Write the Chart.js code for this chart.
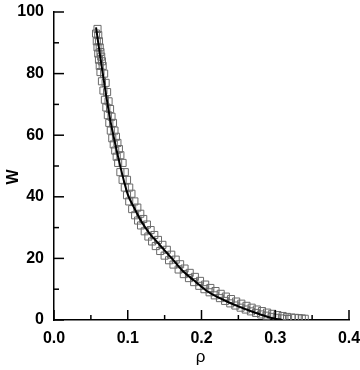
<!DOCTYPE html>
<html>
<head>
<meta charset="utf-8">
<script src="https://cdn.jsdelivr.net/npm/chart.js@4/dist/chart.umd.min.js"></script>
<style>
html,body{margin:0;padding:0;background:#fff;}
#wrap{width:360px;height:370px;position:relative;}
</style>
</head>
<body>
<div id="wrap"><canvas id="c" width="360" height="370"></canvas></div>
<script>
// ---- data ----
const fitRho = [0.057,0.060,0.063,0.066,0.070,0.073,0.077,0.080,0.085,0.090,0.095,0.100,0.110,0.120,0.130,0.140,0.150,0.160,0.175,0.190,0.210,0.230,0.250,0.270,0.290,0.300,0.310];
const fitW   = [95,90,85,80.2,74,69.5,64,60.5,55,49.8,45,40.8,35.8,31.4,28,25.3,22.6,19.9,15.8,12.8,9.0,6.5,4.4,2.6,1.0,0.4,0];

const upperRho = [0.059,0.060,0.061,0.062,0.063,0.064,0.065,0.066,0.068,0.070,0.072,0.074,0.076,0.078,0.080,0.082,0.084,0.086,0.088,0.090,0.093,0.096,0.099,0.102,0.105,0.109,0.113,0.117,0.121,0.126,0.131,0.136,0.141,0.147,0.153,0.159,0.165,0.171,0.177,0.184,0.191,0.198,0.205,0.212,0.219,0.226,0.233,0.240,0.247,0.254,0.261,0.268,0.275,0.282,0.289,0.296,0.303,0.310,0.316,0.322,0.327,0.332,0.336,0.340];
const upperW   = [94.5,92.5,90.5,88.5,87,85.5,84,82.5,80,77,74,71,68.5,66,64,61.5,59.5,57.5,55.5,53.5,51,48,45.5,43,41,38.5,36.5,34.5,32.8,31,29.2,27.6,26,24.4,22.8,21.2,19.6,18.1,16.7,15.3,14.0,12.7,11.5,10.4,9.4,8.5,7.6,6.8,6.0,5.3,4.6,4.0,3.4,2.9,2.4,2.0,1.6,1.3,1.0,0.8,0.7,0.6,0.5,0.4];

const lowerRho = [0.057,0.058,0.059,0.060,0.061,0.062,0.063,0.065,0.067,0.069,0.071,0.073,0.075,0.077,0.079,0.081,0.083,0.085,0.087,0.090,0.093,0.096,0.099,0.102,0.106,0.110,0.114,0.118,0.123,0.128,0.133,0.138,0.144,0.150,0.156,0.162,0.169,0.176,0.183,0.190,0.197,0.204,0.211,0.218,0.225,0.232,0.239,0.246,0.253,0.260,0.267,0.274,0.281,0.288,0.295,0.302,0.309,0.316];
const lowerW   = [93,90.5,88.5,86.5,84.5,82.5,80.5,77.5,74.5,71.5,69,66.5,64,61.5,59,57,55,53,51,48,45.5,43,40.5,38.5,36,34,32.3,30.7,28.8,27.1,25.5,24,22.4,20.9,19.4,18,16.4,14.9,13.6,12.3,11.1,10.0,9.0,8.0,7.1,6.2,5.4,4.7,4.0,3.4,2.8,2.3,1.8,1.4,1.0,0.7,0.5,0.3];

const xMajorTicks = [0, 0.1, 0.2, 0.3, 0.4];
const xMinorTicks = [0.05, 0.15, 0.25, 0.35];
const yMajorTicks = [0, 20, 40, 60, 80, 100];
const yMinorTicks = [10, 30, 50, 70, 90];
const xTitle = 'ρ';
const yTitle = 'W';

const pts = (xs, ys) => xs.map((x, i) => ({x: x, y: ys[i]}));
const FONT = "'Liberation Sans', Arial, Helvetica, sans-serif";

// target plot frame (pixels)
const AREA = { left: 54, top: 12, right: 349, bottom: 320 };
const dims = { yWidth: 54, xHeight: 50, padTop: 12, padRight: 11 };

const tickPlugin = {
  id: 'inTicks',
  afterDraw(chart) {
    const ctx = chart.ctx, xs = chart.scales.x, ys = chart.scales.y, a = chart.chartArea;
    ctx.save();
    ctx.strokeStyle = '#000';
    ctx.lineWidth = 1.5;
    const xt = (v, len) => { const p = xs.getPixelForValue(v); ctx.beginPath(); ctx.moveTo(p, a.bottom); ctx.lineTo(p, a.bottom - len); ctx.stroke(); };
    const yt = (v, len) => { const p = ys.getPixelForValue(v); ctx.beginPath(); ctx.moveTo(a.left, p); ctx.lineTo(a.left + len, p); ctx.stroke(); };
    xMajorTicks.forEach(v => xt(v, 10));
    xMinorTicks.forEach(v => xt(v, 5));
    yMajorTicks.forEach(v => yt(v, 10));
    yMinorTicks.forEach(v => yt(v, 5));
    // axis titles
    ctx.fillStyle = '#000';
    ctx.textAlign = 'center';
    ctx.textBaseline = 'middle';
    ctx.font = '17px ' + FONT;
    ctx.fillText(xTitle, (a.left + a.right) / 2 - 1, 357);
    ctx.translate(14, 177);
    ctx.rotate(-Math.PI / 2);
    ctx.font = 'bold 16px ' + FONT;
    ctx.fillText(yTitle, 0, 0);
    ctx.restore();
  }
};

const chart = new Chart(document.getElementById('c'), {
  type: 'scatter',
  data: {
    datasets: [
      { label: 'fit', type: 'line', data: pts(fitRho, fitW), borderColor: '#000', borderWidth: 2,
        pointRadius: 0, fill: false, cubicInterpolationMode: 'monotone', order: 0 },
      { label: 'upper', data: pts(upperRho, upperW), pointStyle: 'rect', pointRadius: 5,
        borderColor: '#6a6a6a', borderWidth: 1, backgroundColor: 'rgba(0,0,0,0)', order: 1 },
      { label: 'lower', data: pts(lowerRho, lowerW), pointStyle: 'rect', pointRadius: 5,
        borderColor: '#6a6a6a', borderWidth: 1, backgroundColor: 'rgba(0,0,0,0)', order: 2 }
    ]
  },
  options: {
    responsive: false,
    animation: false,
    events: [],
    layout: { padding: { top: dims.padTop, right: dims.padRight, left: 0, bottom: 0 } },
    plugins: { legend: { display: false }, tooltip: { enabled: false } },
    scales: {
      x: {
        type: 'linear', min: 0, max: 0.4,
        afterBuildTicks: s => { s.ticks = xMajorTicks.map(v => ({value: v})); },
        afterFit: s => { s.height = dims.xHeight; s.paddingLeft = 0; s.paddingRight = 0; },
        grid: { display: false, drawTicks: false },
        border: { display: true, color: '#000', width: 1.5 },
        ticks: { color: '#000', padding: 9, maxRotation: 0,
          font: { family: FONT, size: 16, weight: 'bold' },
          callback: v => Number(v).toFixed(1) },
        title: { display: false }
      },
      y: {
        type: 'linear', min: 0, max: 100,
        afterBuildTicks: s => { s.ticks = yMajorTicks.map(v => ({value: v})); },
        afterFit: s => { s.width = dims.yWidth; s.paddingTop = 0; s.paddingBottom = 0; },
        grid: { display: false, drawTicks: false },
        border: { display: true, color: '#000', width: 1.5 },
        ticks: { color: '#000', padding: 10,
          font: { family: FONT, size: 16, weight: 'bold' } },
        title: { display: false }
      }
    }
  },
  plugins: [tickPlugin]
});

// nudge layout so the plot frame lands on the reference frame
for (let k = 0; k < 3; k++) {
  const a = chart.chartArea;
  if (!a) break;
  const dl = a.left - AREA.left, dt = a.top - AREA.top, dr = a.right - AREA.right, db = a.bottom - AREA.bottom;
  if (Math.abs(dl) < 0.5 && Math.abs(dt) < 0.5 && Math.abs(dr) < 0.5 && Math.abs(db) < 0.5) break;
  dims.yWidth -= dl;
  dims.padTop = Math.max(0, dims.padTop - dt);
  dims.padRight = Math.max(0, dims.padRight + dr);
  dims.xHeight += db;
  chart.options.layout.padding = { top: dims.padTop, right: dims.padRight, left: 0, bottom: 0 };
  chart.update();
}
</script>
</body>
</html>
